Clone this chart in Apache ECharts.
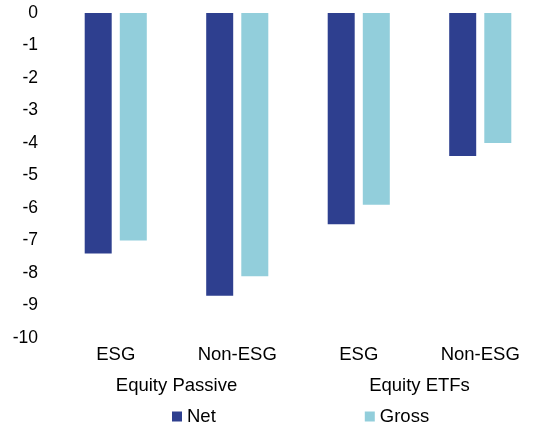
<!DOCTYPE html>
<html><head><meta charset="utf-8">
<script src="https://cdn.jsdelivr.net/npm/echarts@6/dist/echarts.min.js"></script>
<style>html,body{margin:0;padding:0;background:#fff}#c{width:558px;height:426px}</style>
</head><body><div id="c"></div>
<script>
const categories = ['ESG', 'Non-ESG', 'ESG', 'Non-ESG'];
const groups = ['Equity Passive', 'Equity ETFs'];
const netValues = [-7.4, -8.7, -6.5, -4.4];
const grossValues = [-7.0, -8.1, -5.9, -4.0];
const seriesNames = ['Net', 'Gross'];

const font = 'Liberation Sans, Arial, sans-serif';
const chart = echarts.init(document.getElementById('c'));
chart.setOption({
  animation: false,
  grid: {left: 55, right: 17, top: 13, bottom: 88, containLabel: false},
  xAxis: [{
    type: 'category', data: categories, position: 'bottom',
    axisLine: {show: false, onZero: false}, axisTick: {show: false},
    axisLabel: {color: '#000', fontSize: 18.5, fontFamily: font, margin: 7}
  }, {
    type: 'category', data: groups, position: 'bottom', offset: 31,
    axisLine: {show: false, onZero: false}, axisTick: {show: false},
    axisLabel: {color: '#000', fontSize: 18.5, fontFamily: font, margin: 7}
  }],
  yAxis: {
    type: 'value', min: -10, max: 0, interval: 1,
    axisLine: {show: false}, axisTick: {show: false}, splitLine: {show: false},
    axisLabel: {color: '#000', fontSize: 17.5, fontFamily: font, margin: 17}
  },
  legend: {
    top: 402, left: 167, itemWidth: 10, itemHeight: 10, itemGap: 149,
    icon: 'rect', textStyle: {color: '#000', fontSize: 18.5, fontFamily: font},
    data: seriesNames
  },
  series: [{
    name: seriesNames[0], type: 'bar', data: netValues, xAxisIndex: 0,
    barWidth: 27, barGap: '30%', itemStyle: {color: '#2E3F8F'}
  }, {
    name: seriesNames[1], type: 'bar', data: grossValues, xAxisIndex: 0,
    barWidth: 27, barGap: '30%', itemStyle: {color: '#92CEDB'}
  }]
});
</script></body></html>
